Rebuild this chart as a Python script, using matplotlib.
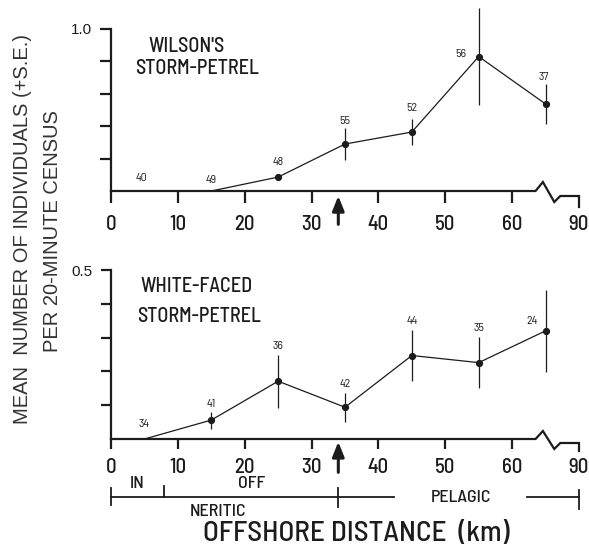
import matplotlib.pyplot as plt
from matplotlib import transforms

# offshore distance bins (km, midpoints)
distance = [5, 15, 25, 35, 45, 55, 65]

# Wilson's storm-petrel: mean per 20-min census, S.E., number of censuses
wilson_mean = [0.0, 0.0, 0.086, 0.29, 0.364, 0.83, 0.537]
wilson_se = [0.0, 0.0, 0.02, 0.096, 0.083, 0.30, 0.123]
wilson_n = [40, 49, 48, 55, 52, 56, 37]

# white-faced storm-petrel
whiteface_mean = [0.0, 0.056, 0.171, 0.094, 0.247, 0.226, 0.32]
whiteface_se = [0.0, 0.025, 0.078, 0.043, 0.075, 0.075, 0.122]
whiteface_n = [34, 41, 36, 42, 44, 35, 24]

# axis is broken between 60 and 90 km
tick_pos = [0, 10, 20, 30, 40, 50, 60, 70]
tick_labels = ['0', '10', '20', '30', '40', '50', '60', '90']
shelf_edge = 34

W, H = 589, 549
INK = '#1c1c1c'
NARROW = ['Barlow Semi Condensed', 'DejaVu Sans']
HELV = ['Liberation Sans', 'DejaVu Sans']
WT = 500

fig = plt.figure(figsize=(W / 100, H / 100), dpi=100)


def fx(px):
    return px / W


def fy(py):
    return 1 - py / H


def add_panel(y_top, y_base, ymax, tick_len, tick_pad, ytick_len):
    ax = fig.add_axes([fx(111), fy(y_base), fx(579) - fx(111), fy(y_top) - fy(y_base)])
    ax.set_xlim(0, 70)
    ax.set_ylim(0, ymax)
    for s in ['top', 'right', 'bottom']:
        ax.spines[s].set_visible(False)
    ax.spines['left'].set_linewidth(1.6)
    ax.spines['left'].set_color(INK)
    ax.set_xticks(tick_pos, tick_labels)
    ax.tick_params(axis='x', direction='out', length=tick_len, width=1.6,
                   color=INK, pad=tick_pad, labelsize=15, labelcolor=INK)
    ax.tick_params(axis='y', direction='out', length=ytick_len, width=1.6,
                   color=INK, pad=6, labelsize=11, labelcolor=INK)
    for lab in ax.get_xticklabels():
        lab.set_family(NARROW)
        lab.set_weight(WT)
    for lab in ax.get_yticklabels():
        lab.set_family(HELV)
    ax.xaxis.get_major_ticks()[-1].tick1line.set_visible(False)
    ax.patch.set_visible(False)
    return ax


def px_to_data(ax, px):
    # convert a vertical pixel offset to data units for this axes
    y0, y1 = ax.get_ylim()
    h = ax.get_position().height * H
    return px * (y1 - y0) / h


def broken_baseline(ax, up, down, mid, tick_end):
    d = lambda p: px_to_data(ax, p)
    xs = [0, 63.5, 64.6, 66.3, 67.2, 70, 70]
    ys = [0, 0, d(up), -d(down), -d(mid), -d(mid), -d(tick_end)]
    ax.plot(xs, ys, color=INK, lw=1.6, clip_on=False, solid_joinstyle='miter')


def draw_series(ax, mean, se, n, label_off):
    ax.plot(distance, mean, color=INK, lw=0.9, clip_on=False)
    pts = [(x, m, s) for x, m, s in zip(distance, mean, se) if m > 0]
    ax.errorbar([p[0] for p in pts], [p[1] for p in pts], yerr=[p[2] for p in pts],
                fmt='o', ms=4.2, color=INK, ecolor=INK, elinewidth=0.9,
                capsize=0, clip_on=False)
    for x, m, k, off in zip(distance, mean, n, label_off):
        ax.annotate(str(k), xy=(x, m), xytext=off, textcoords='offset points',
                    ha='center', va='center', fontsize=8.5, color=INK,
                    family=NARROW, annotation_clip=False)


def shelf_arrow(ax, gap, length):
    ax.annotate('', xy=(shelf_edge, 0), xytext=(0, -length), textcoords='offset points',
                arrowprops=dict(arrowstyle='-|>,head_length=0.55,head_width=0.22',
                                mutation_scale=16, lw=2.2, color=INK,
                                shrinkA=0, shrinkB=gap),
                annotation_clip=False)


def label(x, y, s, size, **kw):
    fig.text(fx(x), fy(y), s, fontsize=size, family=NARROW, weight=WT,
             color=INK, va='center', **kw)


# ---- top panel: Wilson's storm-petrel ----
ax1 = add_panel(29, 191, 1.0, 8.6, 9.0, 8.0)
ax1.set_yticks([0.2, 0.4, 0.6, 0.8, 1.0], ['', '', '', '', '1.0'])
broken_baseline(ax1, 9, 11, 5, 16)
draw_series(ax1, wilson_mean, wilson_se, wilson_n,
            [(-2, 9.4), (0, 8), (0, 11), (0, 16.5), (0, 17), (-13, 1.5), (-1, 19.5)])
shelf_arrow(ax1, 3.5, 24)
label(148, 47, "WILSON'S", 14.5)
label(135, 68, 'STORM-PETREL', 14.5)

# ---- bottom panel: white-faced storm-petrel ----
ax2 = add_panel(270, 439, 0.5, 7, 7.0, 7.0)
ax2.set_yticks([0.1, 0.2, 0.3, 0.4, 0.5], ['', '', '', '', '0.5'])
broken_baseline(ax2, 8, 10, 4, 12)
draw_series(ax2, whiteface_mean, whiteface_se, whiteface_n,
            [(0, 11), (0, 11.5), (0, 25), (0, 17), (0, 24.5), (0, 25), (-10, 7)])
shelf_arrow(ax2, 2, 24)
label(140, 287, 'WHITE-FACED', 14.5)
label(137, 317, 'STORM-PETREL', 14.5)

# ---- zone bracket under the bottom axis ----
tr = transforms.blended_transform_factory(ax2.transData, fig.transFigure)
br = 497
seg_kw = dict(color=INK, lw=1.3, transform=tr, clip_on=False)
ax2.plot([0, 42.4], [fy(br), fy(br)], **seg_kw)
ax2.plot([62.2, 70], [fy(br), fy(br)], **seg_kw)
ax2.plot([0, 0], [fy(488), fy(505)], **seg_kw)
ax2.plot([8, 8], [fy(486), fy(br)], **seg_kw)
ax2.plot([shelf_edge, shelf_edge], [fy(488), fy(507)], **seg_kw)
ax2.plot([70, 70], [fy(490), fy(509)], **seg_kw)
zone_kw = dict(transform=tr, fontsize=13, family=NARROW, weight=WT, color=INK,
               ha='center', va='center')
ax2.text(3.9, fy(484), 'IN', **zone_kw)
ax2.text(21, fy(484), 'OFF', **zone_kw)
ax2.text(16, fy(512), 'NERITIC', **zone_kw)
ax2.text(52.4, fy(498), 'PELAGIC', **zone_kw)
label(356, 534, 'OFFSHORE DISTANCE  (km)', 21, ha='center')

# ---- shared y label ----
fig.text(fx(23), fy(229), 'MEAN  NUMBER OF INDIVIDUALS (+S.E.)', rotation=90,
         fontsize=14.5, family=HELV, color='#333333', ha='center', va='center')
fig.text(fx(53), fy(231), 'PER 20-MINUTE CENSUS', rotation=90,
         fontsize=14.5, family=HELV, color='#333333', ha='center', va='center')

fig.savefig('out.png', dpi=100)
